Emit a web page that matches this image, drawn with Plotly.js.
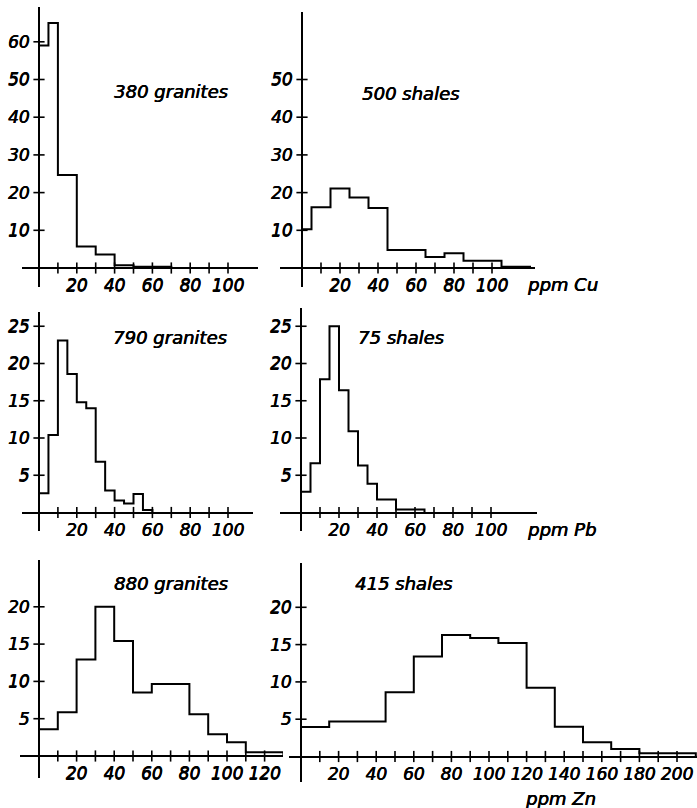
<!DOCTYPE html>
<html>
<head>
<meta charset="utf-8">
<script src="https://cdn.plot.ly/plotly-3.0.1.min.js"></script>
<style>
  html, body { margin: 0; padding: 0; background: #fff; }
  #chart { width: 697px; height: 808px; }
</style>
</head>
<body>
<div id="chart"></div>
<script>
// ---------------- data (% of samples) ----------------
const cuGraniteEdges = [0, 5, 10, 20, 30, 40, 50, 70];
const cuGraniteFreq  = [59, 65, 24.7, 5.7, 3.6, 0.7, 0.3];

const cuShaleEdges = [0, 5, 15, 25, 35, 45, 65, 75, 85, 105, 120];
const cuShaleFreq  = [10.3, 16.1, 21.1, 18.7, 15.9, 4.8, 2.9, 3.9, 1.9, 0.3];

const pbGraniteEdges = [0, 5, 10, 15, 20, 25, 30, 35, 40, 45, 50, 55, 60];
const pbGraniteFreq  = [2.6, 10.4, 23.1, 18.6, 14.8, 14.0, 6.8, 2.95, 1.6, 1.2, 2.5, 0.35];

const pbShaleEdges = [0, 5, 10, 15, 20, 25, 30, 35, 40, 50, 65];
const pbShaleFreq  = [2.8, 6.6, 17.9, 25, 16.4, 10.9, 6.3, 3.85, 1.75, 0.4];

const znGraniteEdges = [0, 10, 20, 30, 40, 50, 60, 80, 90, 100, 110, 130];
const znGraniteFreq  = [3.6, 5.85, 12.95, 20, 15.4, 8.5, 9.65, 5.6, 2.9, 1.84, 0.5];

const znShaleEdges = [0, 15, 45, 60, 75, 90, 105, 120, 135, 150, 165, 180, 210];
const znShaleFreq  = [3.95, 4.7, 8.6, 13.4, 16.3, 15.9, 15.2, 9.2, 4.0, 1.9, 1.0, 0.45];

// tick values and labels
const xTicks100 = [10, 20, 30, 40, 50, 60, 70, 80, 90, 100];
const xTicks120 = [10, 20, 30, 40, 50, 60, 70, 80, 90, 100, 110, 120];
const xTicks200 = [10, 20, 30, 40, 50, 60, 70, 80, 90, 100, 110, 120, 130, 140, 150, 160, 170, 180, 190, 200];
const yTicksCuGranite = [10, 20, 30, 40, 50, 60];
const yTicksCuShale   = [10, 20, 30, 40, 50];
const yTicksPb        = [5, 10, 15, 20, 25];
const yTicksZn        = [5, 10, 15, 20];

const panelTitles = ['380 granites', '500 shales', '790 granites', '75 shales', '880 granites', '415 shales'];
const unitLabels  = ['ppm Cu', 'ppm Pb', 'ppm Zn'];

// ---------------- layout geometry (pixels) ----------------
const W = 697, H = 808;
const FONT = 'DejaVu Sans';

const panels = [
  { edges: cuGraniteEdges, freq: cuGraniteFreq, xt: xTicks100, yt: yTicksCuGranite,
    box: { l: 22, r: 258, t: 7, b: 287 }, ox: 39, oy: 268, sx: 1.89, sy: 3.77, title: [171, 92] },
  { edges: cuShaleEdges, freq: cuShaleFreq, xt: xTicks100, yt: yTicksCuShale,
    box: { l: 280, r: 535, t: 12, b: 287 }, ox: 302, oy: 268, sx: 1.9, sy: 3.77, title: [410, 93] },
  { edges: pbGraniteEdges, freq: pbGraniteFreq, xt: xTicks100, yt: yTicksPb,
    box: { l: 22, r: 253, t: 312, b: 531 }, ox: 39, oy: 512.5, sx: 1.89, sy: 7.45, title: [170, 337] },
  { edges: pbShaleEdges, freq: pbShaleFreq, xt: xTicks100, yt: yTicksPb,
    box: { l: 280, r: 537, t: 308, b: 531 }, ox: 301, oy: 512.5, sx: 1.9, sy: 7.45, title: [401, 338] },
  { edges: znGraniteEdges, freq: znGraniteFreq, xt: xTicks120, yt: yTicksZn,
    box: { l: 20, r: 283, t: 560, b: 778 }, ox: 39, oy: 756, sx: 1.88, sy: 7.46, title: [171, 583] },
  { edges: znShaleEdges, freq: znShaleFreq, xt: xTicks200, yt: yTicksZn,
    box: { l: 289, r: 697, t: 563, b: 782 }, ox: 301, oy: 756.5, sx: 1.88, sy: 7.46, title: [403, 583] }
];
const unitPos = [[562, 284], [561, 529], [560, 798]];

const traces = [];
const layout = {
  width: W, height: H,
  margin: { l: 0, r: 0, t: 0, b: 0 },
  paper_bgcolor: '#fff', plot_bgcolor: 'rgba(0,0,0,0)',
  showlegend: false,
  font: { family: FONT, color: '#000', size: 17 },
  annotations: []
};

const heavy = '0.5px 0 0 #000, 0 0.3px 0 #000';
const tickFont = { family: FONT, size: 17, color: '#000', style: 'italic', weight: 'normal', shadow: heavy };
const textFont = { family: FONT, size: 18, color: '#000', style: 'italic', weight: 'normal', shadow: heavy };

panels.forEach((p, i) => {
  const n = i + 1;
  const xa = 'x' + (n === 1 ? '' : n), ya = 'y' + (n === 1 ? '' : n);
  const xRange = [(p.box.l - p.ox) / p.sx, (p.box.r - p.ox) / p.sx];
  const yRange = [(p.oy - p.box.b) / p.sy, (p.oy - p.box.t) / p.sy];

  // step outline of the histogram
  traces.push({
    type: 'scatter', mode: 'lines', xaxis: xa, yaxis: ya,
    x: [p.edges[0]].concat(p.edges),
    y: [0].concat(p.freq, [0]),
    line: { shape: 'hv', color: '#000', width: 2 },
    hoverinfo: 'skip'
  });
  // crossing tick marks on the x axis
  traces.push({
    type: 'scatter', mode: 'markers', xaxis: xa, yaxis: ya,
    x: p.xt, y: p.xt.map(() => 0),
    marker: { symbol: 'line-ns-open', size: 8, color: '#000', line: { color: '#000', width: 1.6 } },
    hoverinfo: 'skip', cliponaxis: false
  });
  // crossing tick marks on the y axis
  traces.push({
    type: 'scatter', mode: 'markers', xaxis: xa, yaxis: ya,
    x: p.yt.map(() => 0), y: p.yt,
    marker: { symbol: 'line-ew-open', size: 8, color: '#000', line: { color: '#000', width: 1.6 } },
    hoverinfo: 'skip', cliponaxis: false
  });

  layout['xaxis' + (n === 1 ? '' : n)] = {
    domain: [p.box.l / W, p.box.r / W],
    range: xRange,
    anchor: 'free', position: 1 - p.oy / H,
    showline: true, linecolor: '#000', linewidth: 2,
    showgrid: false, zeroline: false, ticks: '',
    tickmode: 'array', tickvals: p.xt,
    ticktext: p.xt.map(v => (v % 20 === 0 ? String(v) : '')),
    tickfont: tickFont, ticklabelstandoff: 2, tickangle: 0,
    fixedrange: true
  };
  layout['yaxis' + (n === 1 ? '' : n)] = {
    domain: [1 - p.box.b / H, 1 - p.box.t / H],
    range: yRange,
    anchor: 'free', position: p.ox / W,
    showline: true, linecolor: '#000', linewidth: 2,
    showgrid: false, zeroline: false, ticks: '',
    tickmode: 'array', tickvals: p.yt, ticktext: p.yt.map(String),
    tickfont: tickFont, ticklabelstandoff: 5, tickangle: 0,
    fixedrange: true
  };

  layout.annotations.push({
    xref: 'paper', yref: 'paper',
    x: p.title[0] / W, y: 1 - p.title[1] / H,
    xanchor: 'center', yanchor: 'middle', showarrow: false,
    text: panelTitles[i], font: textFont
  });
});

unitLabels.forEach((t, i) => {
  layout.annotations.push({
    xref: 'paper', yref: 'paper',
    x: unitPos[i][0] / W, y: 1 - unitPos[i][1] / H,
    xanchor: 'center', yanchor: 'middle', showarrow: false,
    text: t, font: textFont
  });
});

Plotly.newPlot('chart', traces, layout, { staticPlot: true, displayModeBar: false });
</script>
</body>
</html>
